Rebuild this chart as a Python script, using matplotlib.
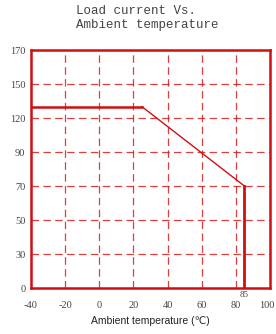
import numpy as np
import matplotlib
matplotlib.use("Agg")
import matplotlib.pyplot as plt
import matplotlib.transforms as mtransforms

# derating curve
temps = [-40, 25, 85, 85]
currents = [130, 130, 70, 0]

# y axis labels are evenly spaced, not linear
y_labels = [0, 30, 50, 70, 90, 120, 150, 170]
x_ticks = [-40, -20, 0, 20, 40, 60, 80, 100]

red = "#d01010"


def ypos(v):
    return np.interp(v, y_labels, np.arange(len(y_labels)))


fig = plt.figure(figsize=(2.76, 3.34), dpi=100)
ax = fig.add_axes([31 / 276, 46 / 334, 239 / 276, 238 / 334])

ax.set_xlim(-40, 100)
ax.set_ylim(0, len(y_labels) - 1)

for x in x_ticks[1:-1]:
    ax.axvline(x, color=red, lw=0.9, alpha=0.8, dashes=(6, 3.5), zorder=1)
for i in range(1, len(y_labels) - 1):
    ax.axhline(i, color=red, lw=0.9, alpha=0.8, dashes=(6, 3.5), zorder=1)

ys = ypos(currents)
ax.plot(temps[:2], ys[:2], color=red, lw=1.8, zorder=3)
ax.plot(temps[1:3], ys[1:3], color=red, lw=1.0, zorder=3)
ax.plot(temps[2:], ys[2:], color=red, lw=2.0, zorder=3)

for s in ax.spines.values():
    s.set_color(red)
    s.set_linewidth(1.8)

ax.set_xticks(x_ticks)
ax.set_xticklabels([str(t) for t in x_ticks], family="Liberation Serif",
                   fontsize=7.5, color="#444444")
ax.set_yticks(range(len(y_labels)))
ax.set_yticklabels([str(v) for v in y_labels], family="Liberation Serif",
                   fontsize=7.5, color="#444444")
ax.tick_params(axis="x", length=0, pad=9)
ax.tick_params(axis="y", length=0, pad=4)

# nudge "100" so it stays inside the figure
last = ax.get_xticklabels()[-1]
last.set_transform(last.get_transform() +
                   mtransforms.ScaledTranslation(-3 / 100, 0, fig.dpi_scale_trans))

ax.text(85, -0.08, "85", ha="center", va="top", family="Liberation Serif",
        fontsize=6.5, color="#444444")

ax.set_xlabel("Ambient temperature (\u2103)", fontsize=7.5,
              family=["Liberation Sans", "DejaVu Sans"], color="#222222", labelpad=5)

fig.text(76 / 276, 1 - 5 / 334, "Load current Vs.\nAmbient temperature",
         ha="left", va="top", family="Liberation Mono", fontsize=9,
         color="#444444", linespacing=1.2)

fig.savefig("out.png", dpi=100)
